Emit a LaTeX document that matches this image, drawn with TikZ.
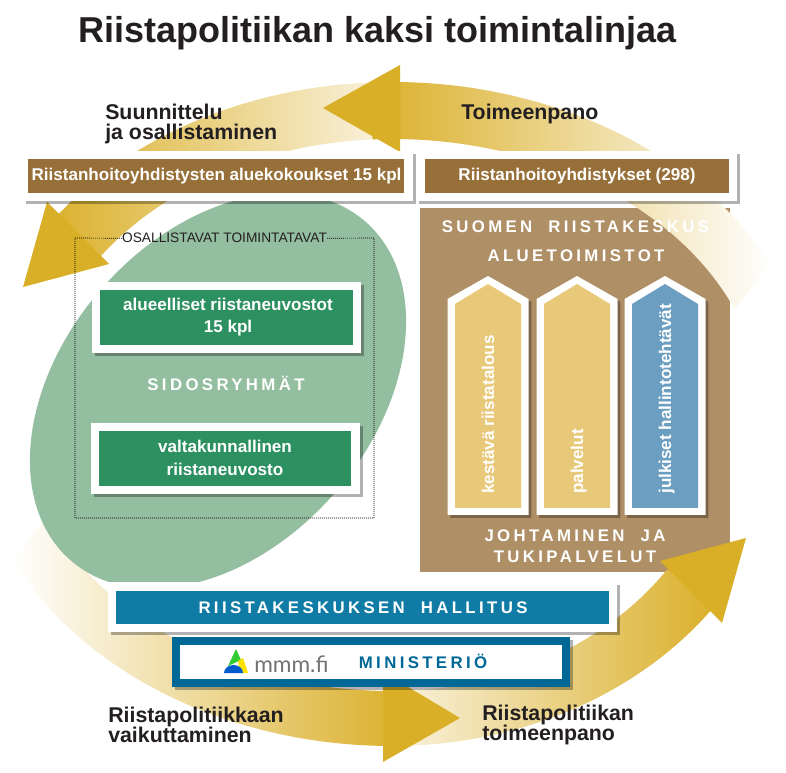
\documentclass[tikz,border=0pt]{standalone}
\usepackage{fontspec}
\setmainfont{Liberation Sans}
\newfontfamily\spacedfont[LetterSpace=20.0,WordSpace=2.0]{Liberation Sans}
\newfontfamily\logofont{Lato}
\usetikzlibrary{calc,shadows}
\definecolor{gold}{HTML}{DAAF28}
\definecolor{leaf}{HTML}{93BEA0}
\definecolor{ruskea}{HTML}{976F39}
\definecolor{panelbrown}{HTML}{AF8F66}
\definecolor{vihrea}{HTML}{2C9060}
\definecolor{sand}{HTML}{E8C97A}
\definecolor{steel}{HTML}{6B9EC0}
\definecolor{petrol}{HTML}{107CA6}
\definecolor{navy}{HTML}{006896}
\definecolor{ink}{HTML}{231F20}
\tikzset{
softshadow/.style={drop shadow={shadow xshift=2.2pt, shadow yshift=-2.2pt, opacity=.3, fill=black}},
whiteframe/.style={fill=white, softshadow},
heading/.style={font=\fontsize{16}{15}\selectfont\bfseries, text=ink, anchor=west, align=left, inner sep=0pt},
boxtext/.style={font=\fontsize{12.8}{17}\selectfont\bfseries, text=white, align=center, inner sep=0pt},
spaced/.style={font=\fontsize{12.6}{16}\selectfont\spacedfont\bfseries, text=white, align=center, inner sep=0pt},
uptext/.style={font=\fontsize{12.8}{12.8}\selectfont\bfseries, text=white, inner sep=0pt, rotate=90, anchor=base west},
}
\begin{document}
\begin{tikzpicture}[x=0.75pt, y=-0.75pt]
\useasboundingbox (0,0) rectangle (786,773);
\coordinate (ringc) at (392,415);
\node[font=\fontsize{27}{27}\selectfont\bfseries, text=ink, inner sep=0pt] (title) at (377.5,33) {Riistapolitiikan kaksi toimintalinjaa};
% panel
\fill[panelbrown] (420,208) rectangle (730,572);
% ring arrows
\shade[left color=gold, right color=white!90!gold]
($(ringc)+(-88:418 and 333)$) arc[start angle=-88, end angle=-147, x radius=418, y radius=333]
-- ($(ringc)+(-147:356 and 276)$) arc[start angle=-147, end angle=-88, x radius=356, y radius=276] -- cycle;
\shade[left color=gold, right color=white]
($(ringc)+(-93:425 and 333)$) arc[start angle=-93, end angle=-27, x radius=425, y radius=333]
-- ($(ringc)+(-22.5:371 and 276)$) arc[start angle=-22.5, end angle=-93, x radius=371, y radius=276] -- cycle;
\shade[left color=white, right color=gold]
($(ringc)+(88:422 and 331)$) arc[start angle=88, end angle=154, x radius=422, y radius=331]
-- (50,512) -- ($(ringc)+(150:371 and 276)$) arc[start angle=150, end angle=88, x radius=371, y radius=276] -- cycle;
\shade[left color=white!85!gold, right color=gold]
($(ringc)+(90:395 and 331)$) arc[start angle=90, end angle=34, x radius=395, y radius=331]
-- ($(ringc)+(34:332 and 276)$) arc[start angle=34, end angle=90, x radius=332, y radius=276] -- cycle;
\fill[gold] (400,65) -- (323,108) -- (400,152) -- cycle;
\fill[gold] (47,202) -- (23,287) -- (109,264) -- cycle;
\fill[gold] (383,672) -- (460,718) -- (383,762) -- cycle;
\fill[gold] (660,561) -- (746,538) -- (722,623) -- cycle;
% green area
\fill[leaf, rotate around={49:(218,391)}] (218,391) ellipse[x radius=224.5, y radius=155];
% headings
\node[heading] (suunnittelu) at (105,124) {Suunnittelu\\ja osallistaminen};
\node[heading, anchor=base west] (toimeenpano) at (461,120) {Toimeenpano};
\node[heading] (vaikuttaminen) at (108,725) {Riistapolitiikkaan\\vaikuttaminen};
\node[heading] (politiikanpano) at (482,725) {Riistapolitiikan\\toimeenpano};
% top boxes
\path[whiteframe] (23,151) rectangle (413,201);
\fill[ruskea] (28,159) rectangle (404,193);
\node[boxtext, anchor=base] (aluekokoukset) at (216.5,181) {Riistanhoitoyhdistysten aluekokoukset 15 kpl};
\path[whiteframe] (416,151) rectangle (737,201);
\fill[ruskea] (425,159) rectangle (729,193);
\node[boxtext, anchor=base] (yhdistykset) at (577,181) {Riistanhoitoyhdistykset (298)};
% dotted box
\node[inner sep=0pt, font=\fontsize{10.3}{10.3}\selectfont, text=ink, anchor=base] (osallistavat) at (224.5,243) {OSALLISTAVAT TOIMINTATAVAT};
\draw[line width=.5pt, dash pattern=on .75pt off .75pt, black] (osallistavat.west) -- (75,238) -- (75,518) -- (374,518) -- (374,238) -- (osallistavat.east);
% green boxes
\path[whiteframe] (92,282) rectangle (361,353);
\fill[vihrea] (100,290) rectangle (353,345);
\node[boxtext] (neuvostot) at (228,317) {alueelliset riistaneuvostot\\15 kpl};
\node[spaced, anchor=base] (sidosryhmat) at (226,391) {SIDOSRYHMÄT};
\path[whiteframe] (91,423) rectangle (360,494);
\fill[vihrea] (99,431) rectangle (351,486);
\node[boxtext] (neuvosto) at (225,458) {valtakunnallinen\\riistaneuvosto};
% panel texts
\node[spaced, anchor=base] (riistakeskus) at (575.5,233) {SUOMEN RIISTAKESKUS};
\node[spaced, anchor=base] (aluetoimistot) at (576,262) {ALUETOIMISTOT};
\node[spaced] (johtaminen) at (575,546) {JOHTAMINEN JA\\TUKIPALVELUT};
% pillars
\foreach \xpos/\pillarcol/\pillarname/\pillartext in {488/sand/kestava/kestävä riistatalous,
577/sand/palvelut/palvelut, 665/steel/julkiset/julkiset hallintotehtävät}{
\path[whiteframe] ({\xpos-40.5},515) -- ({\xpos-40.5},299) -- (\xpos,276) -- ({\xpos+40.5},299) -- ({\xpos+40.5},515) -- cycle;
\fill[\pillarcol] ({\xpos-33},508) -- ({\xpos-33},304) -- (\xpos,284) -- ({\xpos+33},304) -- ({\xpos+33},508) -- cycle;
\node[uptext] (\pillarname) at ({\xpos+6},494) {\pillartext};
}
% bottom boxes
\path[whiteframe] (108,582) rectangle (617,632);
\fill[petrol] (116,591) rectangle (609,624);
\node[spaced, anchor=base] (hallitus) at (363,614) {RIISTAKESKUKSEN HALLITUS};
\path[softshadow, fill=navy] (172,637) rectangle (570,687);
\fill[white] (180,645) rectangle (562,679);
\fill[green!60!gray] (236,649) -- (228,666) -- (241,660) -- cycle;
\fill[yellow!85!orange] (238,661) -- (243,658) -- (248,673) -- (240,673) -- cycle;
\fill[blue!55!cyan!80!black] (224,673) arc[start angle=180, end angle=360, x radius=9.5, y radius=8] -- cycle;
\node[font=\fontsize{17}{17}\logofont\selectfont, text=black!55, inner sep=0pt, anchor=base west] (logotext) at (254,672) {mmm.fi};
\node[spaced, text=navy, anchor=base] (ministerio) at (423,668) {MINISTERIÖ};
\end{tikzpicture}
\end{document}
